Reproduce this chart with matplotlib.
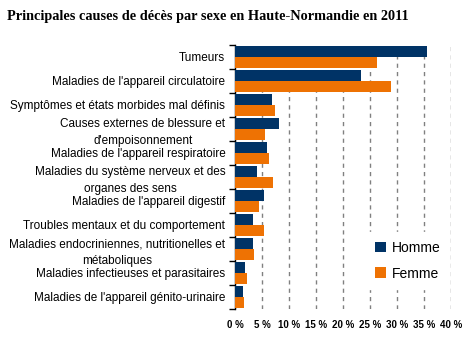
import matplotlib
matplotlib.use('Agg')
import matplotlib.pyplot as plt
import numpy as np

causes = [
    'Tumeurs',
    "Maladies de l'appareil circulatoire",
    'Symptômes et états morbides mal définis',
    "Causes externes de blessure et\nd'empoisonnement",
    "Maladies de l'appareil respiratoire",
    'Maladies du système nerveux et des\norganes des sens',
    "Maladies de l'appareil digestif",
    'Troubles mentaux et du comportement',
    'Maladies endocriniennes, nutritionelles et\nmétaboliques',
    'Maladies infectieuses et parasitaires',
    "Maladies de l'appareil génito-urinaire",
]
homme = [35.5, 23.3, 6.8, 8.1, 5.9, 4.0, 5.3, 3.3, 3.3, 1.8, 1.4]
femme = [26.2, 28.8, 7.3, 5.5, 6.3, 7.0, 4.4, 5.3, 3.5, 2.2, 1.6]
xticks = [0, 5, 10, 15, 20, 25, 30, 35, 40]

navy = '#003366'
orange = '#ee7203'

plt.rcParams['font.family'] = ['Liberation Sans', 'DejaVu Sans']

fig = plt.figure(figsize=(4.72, 3.46), dpi=100)
ax = fig.add_axes([0.498, 0.107, 0.458, 0.763])

y = np.arange(len(causes))
h = 0.46
ax.barh(y - h / 2, homme, height=h, color=navy, label='Homme', zorder=3)
ax.barh(y + h / 2, femme, height=h, color=orange, label='Femme', zorder=3)

ax.set_ylim(len(causes) - 0.5, -0.5)
ax.set_xlim(0, 40)

ax.set_yticks(y)
ax.set_yticklabels(causes, fontsize=8.5, multialignment='center', linespacing=1.5)
ax.set_yticks(np.arange(len(causes) + 1) - 0.5, minor=True)
ax.tick_params(axis='y', which='major', length=0, pad=7)
ax.tick_params(axis='y', which='minor', length=4, width=1, color='black')

ax.set_xticks(xticks)
ax.set_xticklabels([f'{v} %' for v in xticks], fontsize=7, fontweight='bold')
ax.tick_params(axis='x', length=0, pad=8)

for s in ['top', 'right', 'bottom']:
    ax.spines[s].set_visible(False)
ax.spines['left'].set_color('black')
ax.spines['left'].set_linewidth(1)

ax.grid(axis='x', color='#808080', linestyle=(0, (3, 3)), linewidth=1, zorder=1)

leg = ax.legend(loc='lower right', bbox_to_anchor=(1.02, 0.05), frameon=True,
                fontsize=10, handlelength=0.8, handleheight=0.8,
                handletextpad=0.4, labelspacing=0.85, borderpad=0.6)
leg.get_frame().set_facecolor('white')
leg.get_frame().set_edgecolor('white')
leg.get_frame().set_alpha(1)
leg.set_zorder(5)

fig.text(0.015, 0.952, 'Principales causes de décès par sexe en Haute-Normandie en 2011',
         family=['Liberation Serif'], fontweight='bold', fontsize=10.3, va='center')

fig.savefig('out.png', dpi=100)
